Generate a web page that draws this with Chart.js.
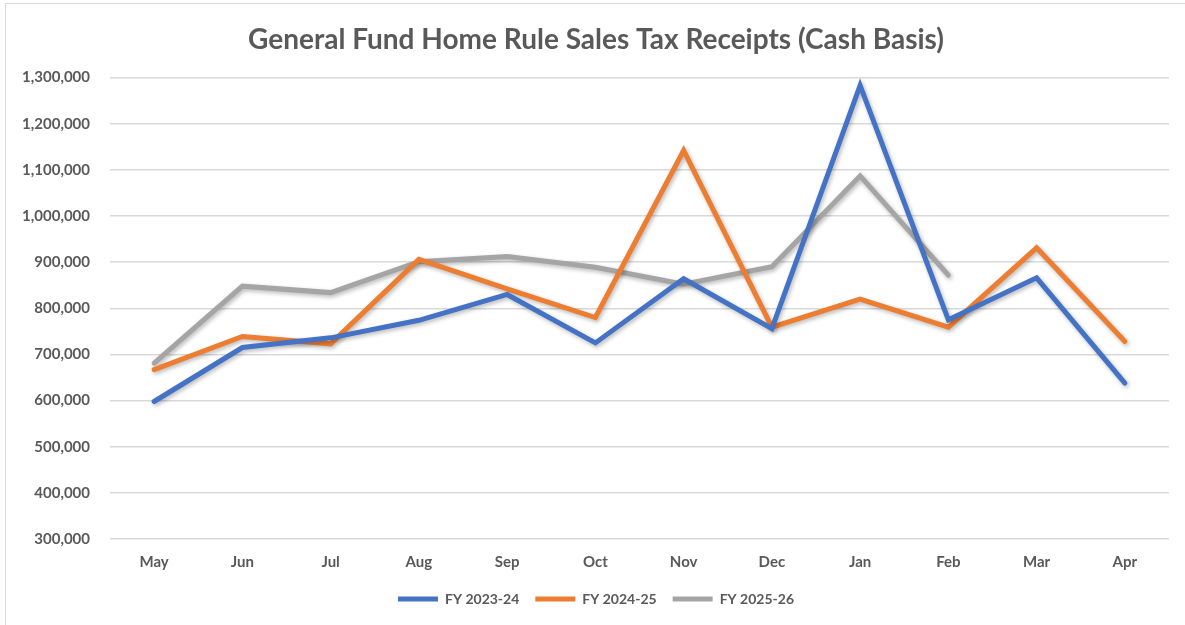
<!DOCTYPE html>
<html>
<head>
<meta charset="utf-8">
<script src="https://cdn.jsdelivr.net/npm/chart.js@4.4.1/dist/chart.umd.min.js"></script>
<style>
  html, body { margin: 0; padding: 0; background: #fff; }
  #wrap { position: relative; width: 1185px; height: 625px; overflow: hidden; }
  #frame { position: absolute; left: 5px; top: 3px; width: 1200px; height: 700px; border: 1px solid #d9d9d9; box-sizing: border-box; }
  canvas { position: absolute; left: 0; top: 0; }
</style>
</head>
<body>
<div id="wrap">
  <div id="frame"></div>
  <canvas id="chart" width="1185" height="625"></canvas>
</div>
<script>
const months = ['May', 'Jun', 'Jul', 'Aug', 'Sep', 'Oct', 'Nov', 'Dec', 'Jan', 'Feb', 'Mar', 'Apr'];
const fy2324 = [598000, 715000, 736000, 774000, 830000, 725000, 864000, 756000, 1283000, 775000, 866000, 638000];
const fy2425 = [667000, 739000, 723000, 906000, 842000, 780000, 1142000, 759000, 820000, 759000, 931000, 728000];
const fy2526 = [681000, 848000, 834000, 901000, 912000, 889000, 852000, 890000, 1087000, 872000, null, null];

const textColor = '#595959';
const fontFamily = 'Lato, "Open Sans", sans-serif';

// soft drop shadow under the lines, like the spreadsheet original
const shadow = {
    id: 'shadow',
    beforeDatasetsDraw(chart) {
        const ctx = chart.ctx;
        ctx.save();
        ctx.shadowColor = 'rgba(0,0,0,0.28)';
        ctx.shadowBlur = 4;
        ctx.shadowOffsetX = 1.5;
        ctx.shadowOffsetY = 2;
    },
    afterDatasetsDraw(chart) {
        chart.ctx.restore();
    }
};

const line = (label, data, color) => ({
    label: label,
    data: data,
    borderColor: color,
    backgroundColor: color,
    borderWidth: 5,
    pointRadius: 0,
    tension: 0,
    borderJoinStyle: 'miter',
    borderCapStyle: 'round',
    spanGaps: false
});

new Chart(document.getElementById('chart'), {
    type: 'line',
    data: {
        labels: months,
        datasets: [
            line('FY 2023-24', fy2324, '#4472C4'),
            line('FY 2024-25', fy2425, '#ED7D31'),
            line('FY 2025-26', fy2526, '#A5A5A5')
        ]
    },
    options: {
        responsive: false,
        animation: false,
        layout: { padding: { left: 23, right: 16, top: 0, bottom: 9 } },
        plugins: {
            tooltip: { enabled: false },
            title: {
                display: true,
                text: 'General Fund Home Rule Sales Tax Receipts (Cash Basis)',
                color: textColor,
                font: { family: fontFamily, size: 28, weight: 'bold' },
                padding: { top: 23, bottom: 21 }
            },
            legend: {
                position: 'bottom',
                labels: {
                    color: textColor,
                    font: { family: fontFamily, size: 14, weight: 'bold' },
                    boxWidth: 40,
                    boxHeight: 5,
                    padding: 16,
                    generateLabels(chart) {
                        const items = Chart.defaults.plugins.legend.labels.generateLabels(chart);
                        items.forEach(it => { it.lineWidth = 0; });
                        return items;
                    }
                }
            }
        },
        scales: {
            x: {
                offset: true,
                grid: { display: false, offset: true, drawTicks: false },
                border: { display: false },
                ticks: {
                    color: textColor,
                    font: { family: fontFamily, size: 15, weight: 'bold' },
                    padding: 14
                },
                afterFit(s) { s.height = 37; }
            },
            y: {
                min: 300000,
                max: 1300000,
                grid: { color: '#d9d9d9', lineWidth: 1.5, drawTicks: false },
                border: { display: false },
                ticks: {
                    stepSize: 100000,
                    color: textColor,
                    font: { family: fontFamily, size: 15, weight: 'bold' },
                    padding: 20,
                    callback: v => v.toLocaleString('en-US')
                },
                afterFit(s) { s.width = 87; }
            }
        }
    },
    plugins: [shadow]
});
</script>
</body>
</html>
